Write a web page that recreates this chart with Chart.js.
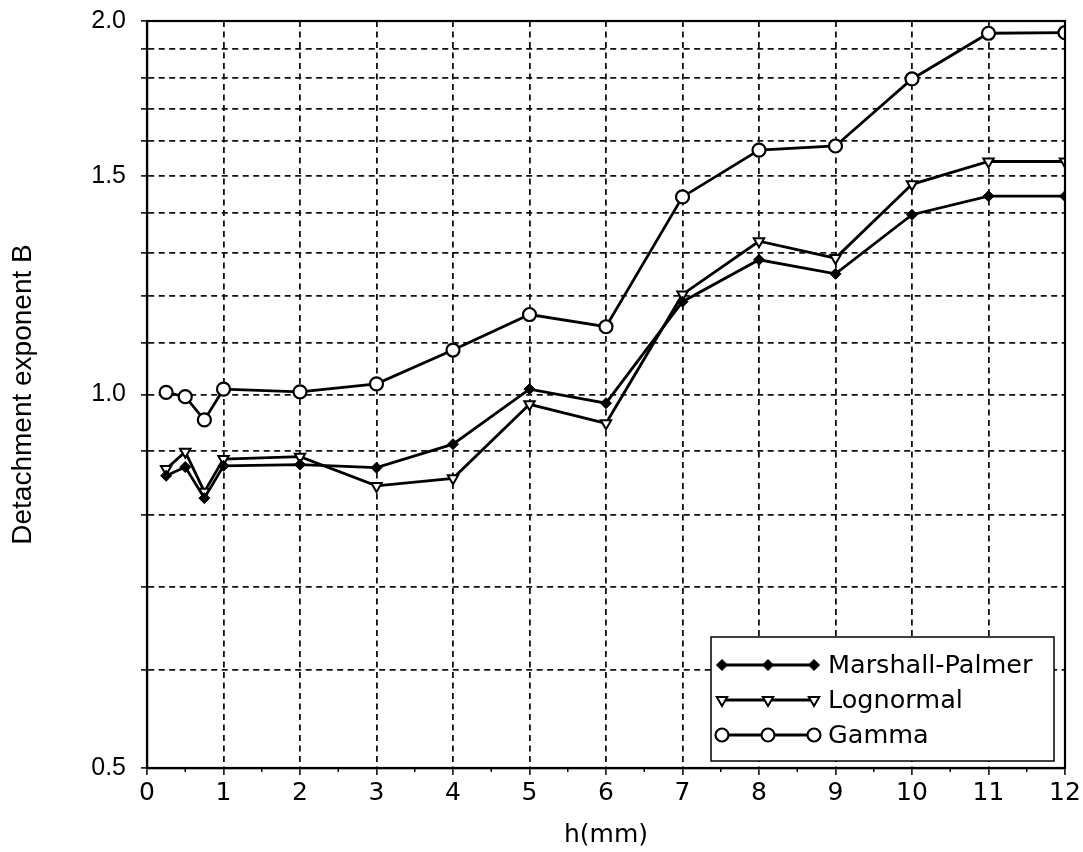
<!DOCTYPE html>
<html lang="en">
<head>
  <meta charset="UTF-8">
  <title>Detachment exponent B</title>
  <script src="https://cdn.jsdelivr.net/npm/chart.js"></script>
  <style>
    html, body { margin: 0; padding: 0; background: #fff; }
    #wrap { position: relative; width: 1083px; height: 852px; }
  </style>
</head>
<body>
  <div id="wrap"><canvas id="grafico"></canvas></div>

  <script>
    // values
    const hValues = [0.25, 0.5, 0.75, 1, 2, 3, 4, 5, 6, 7, 8, 9, 10, 11, 12];
    const marshallPalmer = [0.860, 0.874, 0.825, 0.876, 0.878, 0.873, 0.912, 1.010, 0.984, 1.188, 1.284, 1.251, 1.396, 1.445, 1.445];
    const lognormal = [0.871, 0.899, 0.835, 0.887, 0.891, 0.844, 0.856, 0.982, 0.948, 1.204, 1.329, 1.288, 1.477, 1.541, 1.541];
    const gamma = [1.004, 0.996, 0.954, 1.010, 1.005, 1.020, 1.086, 1.160, 1.134, 1.443, 1.574, 1.586, 1.796, 1.955, 1.957];

    const seriesNames = ['Marshall-Palmer', 'Lognormal', 'Gamma'];
    const yGridValues = [0.5, 0.6, 0.7, 0.8, 0.9, 1.0, 1.1, 1.2, 1.3, 1.4, 1.5, 1.6, 1.7, 1.8, 1.9, 2.0];
    const yLabelValues = [0.5, 1.0, 1.5, 2.0];
    const yLabelTexts = ['0.5', '1.0', '1.5', '2.0'];

    const toPoints = arr => arr.map((v, i) => ({ x: hValues[i], y: v }));

    const estilos = [
      { pointStyle: 'rectRot', radius: 5.5, rotation: 0, fill: '#000', borderWidth: 1 },
      { pointStyle: 'triangle', radius: 6, rotation: 180, fill: '#fff', borderWidth: 2 },
      { pointStyle: 'circle', radius: 6.5, rotation: 0, fill: '#fff', borderWidth: 2.2 }
    ];
    const series = [marshallPalmer, lognormal, gamma];

    const GRID = '#111';

    const marcoLeyenda = {
      id: 'marcoLeyenda',
      afterDatasetsDraw(chart) {
        const { ctx, chartArea: a, scales } = chart;
        const xs = scales.x;
        ctx.save();
        // short ticks at the half steps
        ctx.strokeStyle = '#000';
        ctx.lineWidth = 1.5;
        xs.ticks.forEach(t => {
          if (t.value % 1 !== 0) {
            const px = xs.getPixelForValue(t.value);
            ctx.beginPath();
            ctx.moveTo(px, a.bottom);
            ctx.lineTo(px, a.bottom + 4);
            ctx.stroke();
          }
        });
        // frame
        ctx.lineWidth = 2.2;
        ctx.strokeRect(a.left, a.top, a.right - a.left, a.bottom - a.top);

        // legend box
        const w = 343, h = 124;
        const bx = a.right - 11 - w;
        const by = a.bottom - 7 - h;
        ctx.fillStyle = '#fff';
        ctx.fillRect(bx, by, w, h);
        ctx.lineWidth = 1.5;
        ctx.strokeStyle = '#000';
        ctx.strokeRect(bx, by, w, h);

        ctx.font = '25.5px "DejaVu Sans"';
        ctx.textBaseline = 'middle';
        ctx.textAlign = 'left';
        seriesNames.forEach((name, i) => {
          const y = by + 28 + i * 35;
          const x0 = bx + 11, x1 = bx + 57, x2 = bx + 103;
          ctx.strokeStyle = '#000';
          ctx.lineWidth = 2.8;
          ctx.beginPath();
          ctx.moveTo(x0, y);
          ctx.lineTo(x2, y);
          ctx.stroke();
          const e = estilos[i];
          [x0, x1, x2].forEach(px => {
            ctx.fillStyle = e.fill;
            ctx.strokeStyle = '#000';
            ctx.lineWidth = e.borderWidth;
            Chart.helpers.drawPoint(ctx, {
              pointStyle: e.pointStyle, radius: e.radius,
              rotation: e.rotation, borderWidth: e.borderWidth
            }, px, y);
          });
          ctx.fillStyle = '#000';
          ctx.fillText(name, bx + 117, y + 1);
        });
        ctx.restore();
      }
    };

    const ctx = document.getElementById('grafico').getContext('2d');
    new Chart(ctx, {
      type: 'line',
      data: {
        datasets: series.map((arr, i) => ({
          label: seriesNames[i],
          data: toPoints(arr),
          borderColor: '#000',
          borderWidth: 2.8,
          tension: 0,
          fill: false,
          clip: 0,
          pointStyle: estilos[i].pointStyle,
          pointRotation: estilos[i].rotation,
          pointRadius: estilos[i].radius,
          pointHoverRadius: estilos[i].radius,
          pointBackgroundColor: estilos[i].fill,
          pointBorderColor: '#000',
          pointBorderWidth: estilos[i].borderWidth
        }))
      },
      options: {
        responsive: true,
        maintainAspectRatio: false,
        animation: false,
        events: [],
        layout: { padding: { top: 21, right: 18, left: 0, bottom: 0 } },
        plugins: {
          legend: { display: false },
          tooltip: { enabled: false }
        },
        scales: {
          x: {
            type: 'linear',
            min: 0,
            max: 12,
            afterFit: s => { s.height = 84; s.paddingLeft = 0; s.paddingRight = 0; },
            ticks: {
              stepSize: 0.5,
              autoSkip: false,
              maxRotation: 0,
              padding: 3,
              color: '#000',
              font: { family: '"DejaVu Sans"', size: 25 },
              callback: v => (v % 1 === 0 ? String(v) : '')
            },
            grid: {
              color: c => (c.tick && c.tick.value % 1 === 0 && c.tick.value > 0 && c.tick.value < 12 ? GRID : 'transparent'),
              lineWidth: 1.8,
              tickColor: c => (c.tick && c.tick.value % 1 === 0 ? '#000' : 'transparent'),
              tickWidth: 1.5,
              tickLength: 7
            },
            border: { display: true, color: '#000', width: 2.2, dash: [6, 4.5] },
            title: {
              display: true,
              text: 'h(mm)',
              color: '#000',
              font: { family: '"DejaVu Sans"', size: 25 },
              padding: { top: 0, bottom: 2 }
            }
          },
          y: {
            type: 'logarithmic',
            min: 0.5,
            max: 2.0,
            afterFit: s => { s.width = 147; s.paddingTop = 0; s.paddingBottom = 0; },
            afterBuildTicks: s => { s.ticks = yGridValues.map(v => ({ value: v })); },
            ticks: {
              autoSkip: false,
              padding: 15,
              color: '#000',
              font: { family: '"Liberation Sans", Arial', size: 25 },
              callback: v => {
                const k = yLabelValues.findIndex(t => Math.abs(t - v) < 1e-6);
                return k >= 0 ? yLabelTexts[k] : '';
              }
            },
            grid: {
              color: c => (c.tick && c.tick.value > 0.55 && c.tick.value < 1.95 ? GRID : 'transparent'),
              lineWidth: 1.8,
              tickColor: '#000',
              tickWidth: 1.5,
              tickLength: 6
            },
            border: { display: true, color: '#000', width: 2.2, dash: [6, 4.5] },
            title: {
              display: true,
              text: 'Detachment exponent B',
              color: '#000',
              font: { family: '"Liberation Sans", Arial', size: 28 },
              padding: { top: 6, bottom: 0 }
            }
          }
        }
      },
      plugins: [marcoLeyenda]
    });
  </script>
</body>
</html>
